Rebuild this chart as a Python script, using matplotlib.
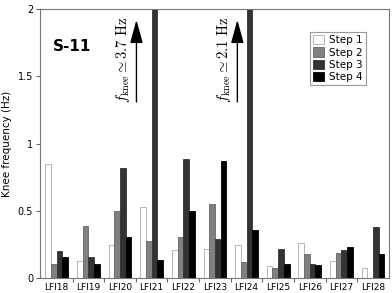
import matplotlib.pyplot as plt
import numpy as np

plt.rcParams['mathtext.fontset'] = 'cm'

radiometers = ['LFI18', 'LFI19', 'LFI20', 'LFI21', 'LFI22', 'LFI23',
               'LFI24', 'LFI25', 'LFI26', 'LFI27', 'LFI28']
step1 = [0.85, 0.13, 0.25, 0.53, 0.21, 0.22, 0.25, 0.09, 0.26, 0.13, 0.08]
step2 = [0.11, 0.39, 0.50, 0.28, 0.31, 0.55, 0.12, 0.08, 0.18, 0.19, 0.0]
step3 = [0.20, 0.16, 0.82, 3.7, 0.89, 0.29, 2.1, 0.22, 0.11, 0.21, 0.38]
step4 = [0.16, 0.11, 0.31, 0.14, 0.50, 0.87, 0.36, 0.11, 0.10, 0.23, 0.18]
steps = [step1, step2, step3, step4]
step_labels = ['Step 1', 'Step 2', 'Step 3', 'Step 4']
colors = ['white', '#808080', '#333333', 'black']
edges = ['#aaaaaa', '#666666', '#333333', 'black']

width = 0.18
ind = np.arange(len(radiometers))

fig = plt.figure(figsize=(3.92, 2.93), dpi=100)
ax = fig.add_axes([0.102, 0.05, 0.89, 0.919])

for i, vals in enumerate(steps):
    ax.bar(ind + (i - 1.5) * width, vals, width, color=colors[i],
           edgecolor=edges[i], linewidth=0.6, label=step_labels[i])

ax.set_xlim(-0.53, 10.5)
ax.set_ylim(0, 2)
ax.set_yticks([0, 0.5, 1, 1.5, 2])
ax.set_yticklabels(['0', '0.5', '1', '1.5', '2'], fontsize=7)
ax.set_ylabel('Knee frequency (Hz)', fontsize=7.5)

# group boundaries as ticks, names centred under groups
ax.set_xticks(ind[:-1] + 0.5)
ax.set_xticklabels([])
ax.set_xticks(ind, minor=True)
ax.set_xticklabels(radiometers, minor=True, fontsize=6.5)
ax.tick_params(axis='x', which='minor', length=0, pad=3)
ax.tick_params(axis='x', which='major', length=3, color='#666666')
ax.tick_params(axis='y', length=3, color='#666666', pad=2)

for s in ax.spines.values():
    s.set_color('#777777')
    s.set_linewidth(0.8)

ax.text(0.037, 0.86, 'S-11', transform=ax.transAxes, fontsize=11,
        fontweight='bold', va='center')

# arrows for the off-scale bars
for x_arr, x_txt, label in [(2.52, 2.1, r'$f_{\rm knee} \simeq 3.7\ {\rm Hz}$'),
                            (5.71, 5.29, r'$f_{\rm knee} \simeq 2.1\ {\rm Hz}$')]:
    ax.annotate('', xy=(x_arr, 1.92), xytext=(x_arr, 1.31),
                arrowprops=dict(arrowstyle='-|>,head_length=1.1,head_width=0.3',
                                color='black', lw=1, mutation_scale=13,
                                shrinkA=0, shrinkB=0))
    ax.text(x_txt, 1.62, label, rotation=90, ha='center', va='center',
            fontsize=10.5)

leg = ax.legend(loc='upper right', bbox_to_anchor=(0.934, 0.915), fontsize=7.5,
                handlelength=1.0, handleheight=1.0, handletextpad=0.5,
                labelspacing=0.2, borderpad=0.3, borderaxespad=0,
                fancybox=False, framealpha=1)
leg.get_frame().set_edgecolor('#999999')
leg.get_frame().set_linewidth(0.8)

plt.savefig('out.png', dpi=100)
